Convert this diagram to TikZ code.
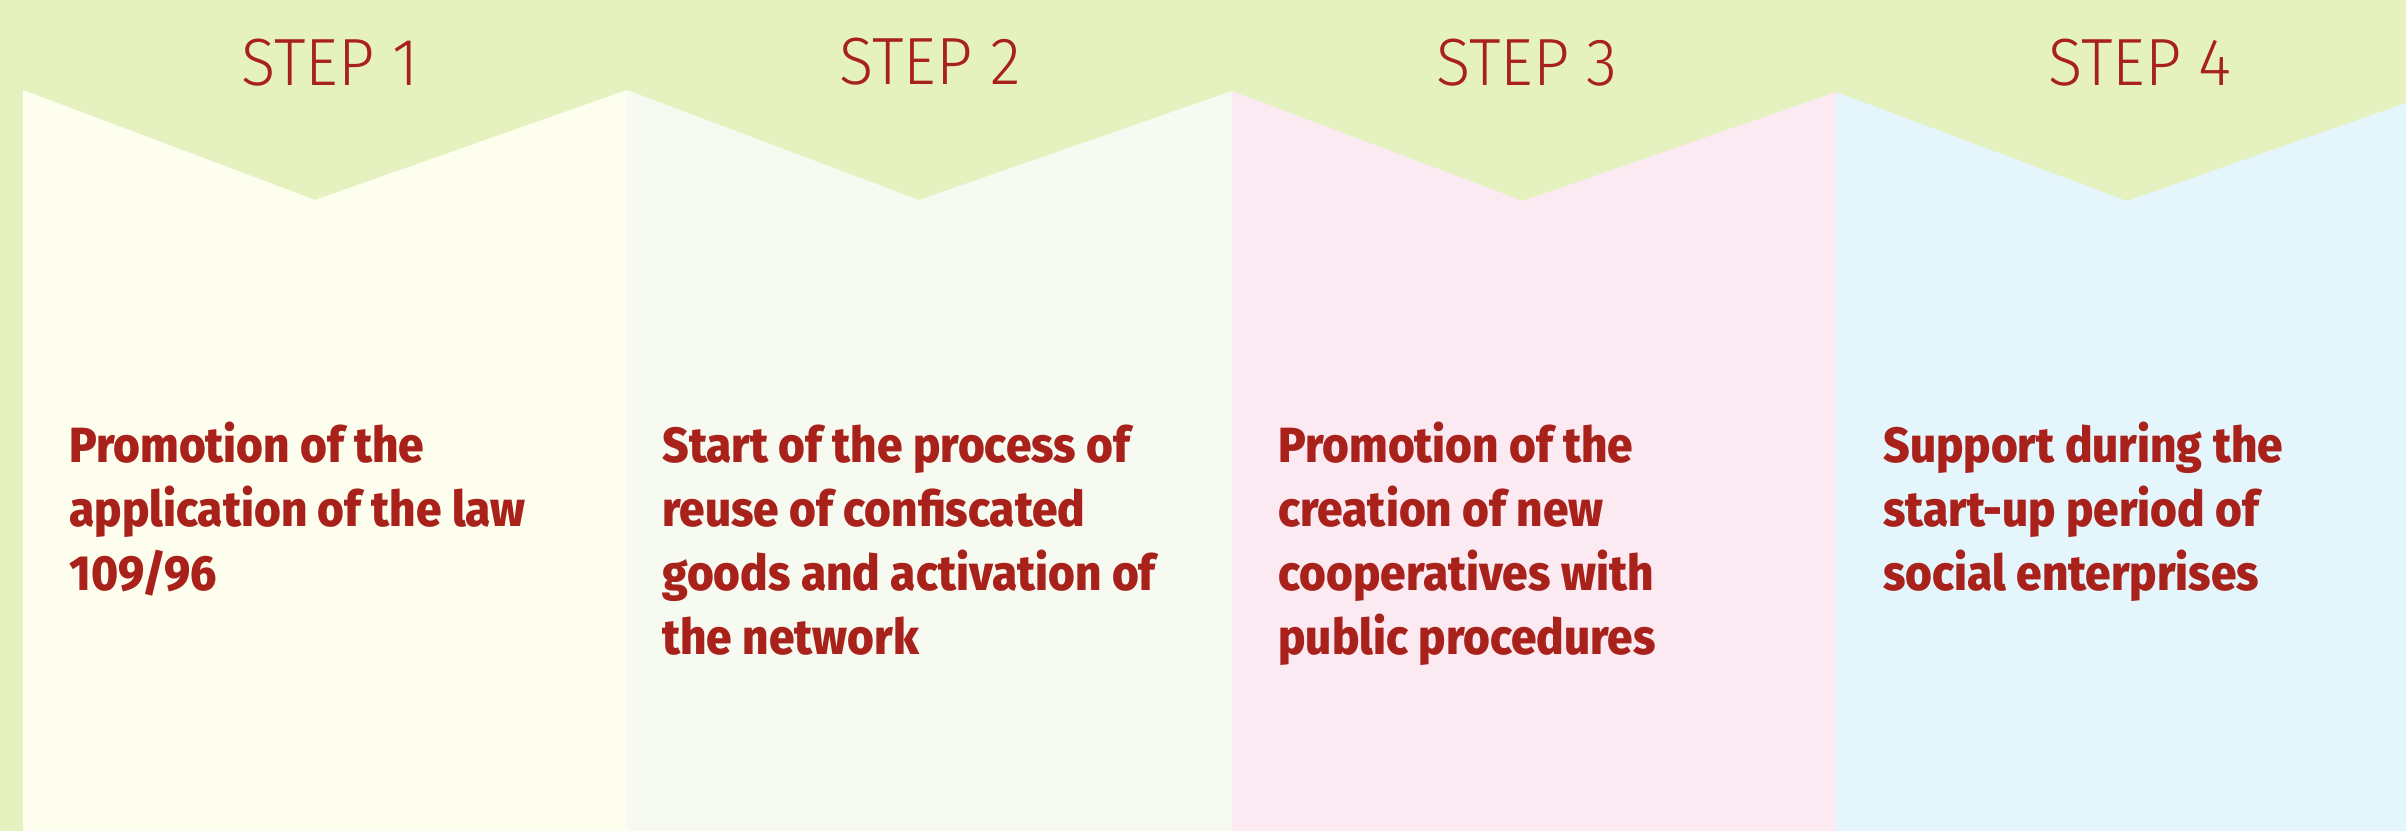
\documentclass[tikz,border=0pt]{standalone}
\usepackage{fontspec}
\newfontfamily\stepfont[FakeStretch=0.95]{Fira Sans Light}
\newfontfamily\bodyfont[FakeStretch=0.93]{Fira Sans ExtraBold}
\definecolor{bggreen}{RGB}{229,242,192}
\definecolor{pone}{RGB}{254,254,238}
\definecolor{ptwo}{RGB}{246,250,240}
\definecolor{pthree}{RGB}{252,234,243}
\definecolor{pfour}{RGB}{228,245,252}
\definecolor{txtred}{RGB}{168,33,26}
\tikzset{
  steplabel/.style={anchor=base, inner sep=0pt, text=txtred, font=\stepfont\fontsize{33.4}{36}\selectfont},
  bodytext/.style={anchor=base west, inner sep=0pt, align=left, text=txtred, font=\bodyfont\fontsize{24.7}{32}\selectfont},
}
\begin{document}
\begin{tikzpicture}[x=0.5pt,y=-0.5pt]
\useasboundingbox (0,0) rectangle (2406,831);
\fill[bggreen] (0,0) rectangle (2406,831);
\fill[pone] (23,831) -- (23,90) -- (315,200) -- (627,90) -- (627,831) -- cycle;
\fill[ptwo] (627,831) -- (627,90) -- (919,200) -- (1232,91) -- (1232,831) -- cycle;
\fill[pthree] (1232,831) -- (1232,91) -- (1523,201) -- (1836,92) -- (1836,831) -- cycle;
\fill[pfour] (1836,831) -- (1836,92) -- (2127,201) -- (2406,103) -- (2406,831) -- cycle;
\node[steplabel] (s1) at (330,85) {STEP 1};
\node[steplabel] (s2) at (930,84) {STEP 2};
\node[steplabel] (s3) at (1527,85) {STEP 3};
\node[steplabel] (s4) at (2140,85) {STEP 4};
% anchor "base" of a multi-line node is the baseline of its last line
\node[bodytext] (t1) at (69,590) {Promotion of the\\application of the law\\109/96};
\node[bodytext] (t2) at (662,654) {Start of the process of\\reuse of confiscated\\goods and activation of\\the network};
\node[bodytext] (t3) at (1278,654) {Promotion of the\\creation of new\\cooperatives with\\public procedures};
\node[bodytext] (t4) at (1883,590) {Support during the\\start-up period of\\social enterprises};
\end{tikzpicture}
\end{document}
